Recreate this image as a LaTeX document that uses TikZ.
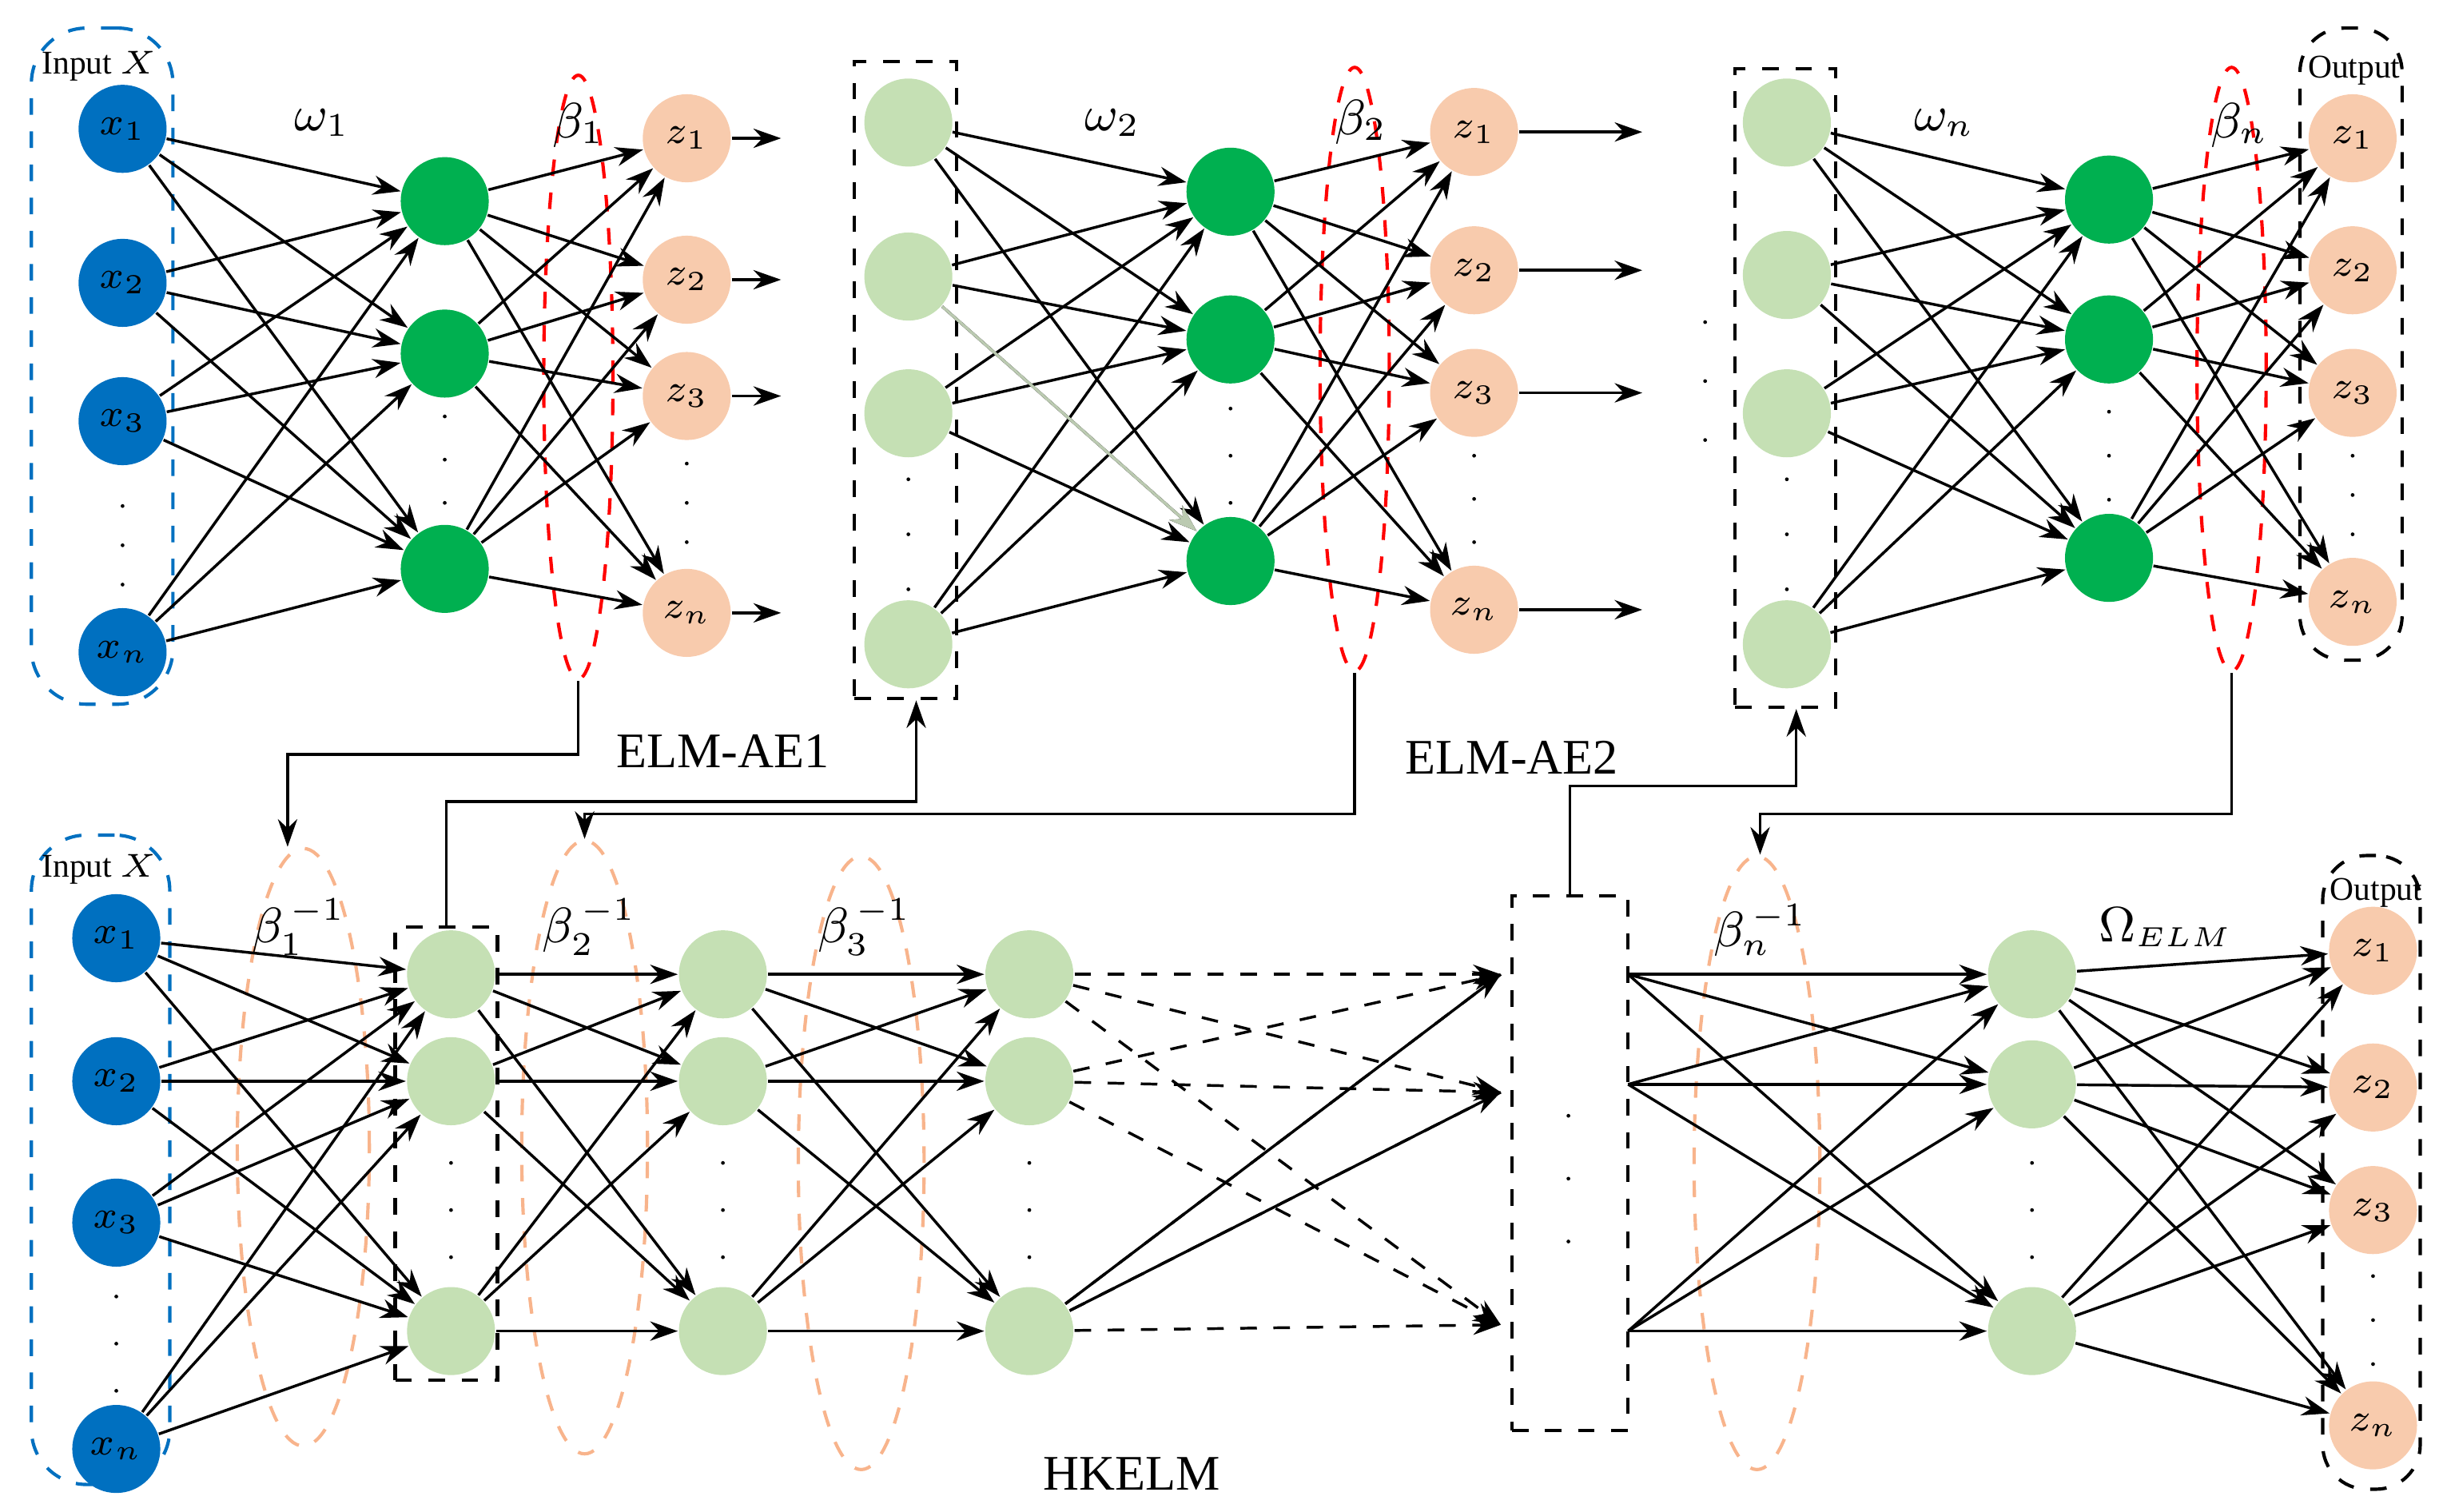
\documentclass[tikz,border=0pt]{standalone}
\usepackage{fontspec}
\setmainfont{Liberation Serif}
\usetikzlibrary{shapes.geometric,arrows.meta}
\definecolor{cblue}{RGB}{0,112,192}
\definecolor{cgreen}{RGB}{0,176,80}
\definecolor{clg}{RGB}{197,224,180}
\definecolor{corg}{RGB}{248,203,173}
\definecolor{cpeach}{RGB}{248,180,140}
\begin{document}
\begin{tikzpicture}[x=0.01cm,y=-0.01cm,
 nd/.style={circle,minimum size=0.56cm,inner sep=0pt,font=\fontsize{7.5}{9}\selectfont},
 xn/.style={nd,fill=cblue}, gn/.style={nd,fill=cgreen}, lg/.style={nd,fill=clg}, zn/.style={nd,fill=corg},
 ar/.style={-{Stealth[length=5pt,width=3.5pt]},line width=0.5pt,shorten >=0pt},
 ln/.style={line width=0.5pt},
 redell/.style={ellipse,draw=red,dashed,line width=0.6pt,inner sep=0pt},
 pell/.style={ellipse,draw=cpeach,dashed,line width=0.6pt,inner sep=0pt},
 dbox/.style={draw,dashed,line width=0.6pt,inner sep=0pt},
 lab/.style={font=\fontsize{9}{10}\selectfont},
 sm/.style={font=\fontsize{6}{7}\selectfont}]
\useasboundingbox (0,0) rectangle (1552,962);
\newcommand{\vd}[3]{\foreach \t in {0,1,2}{\fill (#1,{#2+\t*(#3-#2)/2}) circle (1.2);}}
% ===== TOP ROW =====
\node[dbox,draw=cblue,rounded corners=10pt,minimum width=0.9cm,minimum height=4.3cm] (inT) at (65,233) {};
\node[sm] (tinT) at (63,42) {Input $X$};
\foreach \y/\s [count=\i] in {82/1,180/2,268/3,415/n} \node[xn] (ax\i) at (78,\y) {$x_{\s}$};
\vd{78}{322}{372}
\foreach \y [count=\i] in {128,225,362} \node[gn] (ah\i) at (283,\y) {};
\vd{283}{265}{320}
\node[redell,minimum width=0.44cm,minimum height=3.84cm] (e1) at (368,240) {};
\foreach \y/\s [count=\i] in {88/1,178/2,252/3,390/n} \node[zn] (az\i) at (437,\y) {$z_{\s}$};
\vd{437}{295}{345}
\foreach \i in {1,...,4}{\foreach \j in {1,2,3}{\draw[ar] (ax\i) -- (ah\j);}}
\foreach \i in {1,2,3}{\foreach \j in {1,...,4}{\draw[ar] (ah\i) -- (az\j);}}
\foreach \i in {1,...,4}{\coordinate (ao\i) at (497,{\ifcase\i\or 88\or 178\or 252\or 390\fi}); \draw[ar] (az\i) -- (ao\i);}
\node[lab] (w1) at (205,78) {$\omega_1$};
\node[lab] (b1) at (368,80) {$\beta_1$};
\node[lab] (elm1) at (460,478) {ELM-AE1};
% block 2
\node[dbox,minimum width=0.65cm,minimum height=4.05cm] (box2) at (576,242) {};
\foreach \y [count=\i] in {78,176,263,410} \node[lg] (bx\i) at (578,\y) {};
\vd{578}{305}{375}
\foreach \y [count=\i] in {122,216,357} \node[gn] (bh\i) at (783,\y) {};
\vd{783}{260}{320}
\node[redell,minimum width=0.44cm,minimum height=3.84cm] (e2) at (862,235) {};
\foreach \y/\s [count=\i] in {84/1,172/2,250/3,388/n} \node[zn] (bz\i) at (938,\y) {$z_{\s}$};
\vd{938}{290}{345}
\foreach \i in {1,...,4}{\foreach \j in {1,2,3}{\draw[ar] (bx\i) -- (bh\j);}}
\draw[ar,draw=clg!80!black!70] (bx2) -- (bh3);
\foreach \i in {1,2,3}{\foreach \j in {1,...,4}{\draw[ar] (bh\i) -- (bz\j);}}
\foreach \i in {1,...,4}{\coordinate (bo\i) at (1045,{\ifcase\i\or 84\or 172\or 250\or 388\fi}); \draw[ar] (bz\i) -- (bo\i);}
\node[lab] (w2) at (708,78) {$\omega_2$};
\node[lab] (b2) at (866,78) {$\beta_2$};
\node[lab] (elm2) at (962,482) {ELM-AE2};
\vd{1085}{205}{280}
% block 3
\node[dbox,minimum width=0.64cm,minimum height=4.06cm] (box3) at (1136,247) {};
\foreach \y [count=\i] in {78,175,263,410} \node[lg] (cx\i) at (1137,\y) {};
\vd{1137}{305}{375}
\foreach \y [count=\i] in {127,216,355} \node[gn] (ch\i) at (1342,\y) {};
\vd{1342}{262}{318}
\node[redell,minimum width=0.44cm,minimum height=3.84cm] (e3) at (1420,235) {};
\node[dbox,rounded corners=8pt,minimum width=0.65cm,minimum height=4.02cm] (outT) at (1496,219) {};
\node[sm] (toutT) at (1498,45) {Output};
\foreach \y/\s [count=\i] in {88/1,172/2,250/3,383/n} \node[zn] (cz\i) at (1497,\y) {$z_{\s}$};
\vd{1497}{290}{340}
\foreach \i in {1,...,4}{\foreach \j in {1,2,3}{\draw[ar] (cx\i) -- (ch\j);}}
\foreach \i in {1,2,3}{\foreach \j in {1,...,4}{\draw[ar] (ch\i) -- (cz\j);}}
\node[lab] (w3) at (1237,78) {$\omega_n$};
\node[lab] (b3) at (1425,80) {$\beta_n$};
% ===== BOTTOM ROW =====
\node[dbox,draw=cblue,rounded corners=10pt,minimum width=0.88cm,minimum height=4.13cm] (inB) at (64,738) {};
\node[sm] (tinB) at (63,553) {Input $X$};
\foreach \y/\s [count=\i] in {597/1,688/2,778/3,922/n} \node[xn] (dx\i) at (74,\y) {$x_{\s}$};
\vd{74}{825}{885}
\node[pell,minimum width=0.84cm,minimum height=3.8cm] (f1) at (193,730) {};
\node[dbox,minimum width=0.65cm,minimum height=2.88cm] (bx1) at (284,734) {};
\foreach \y [count=\i] in {620,688,847} \node[lg] (d1\i) at (287,\y) {};
\vd{287}{740}{800}
\node[pell,minimum width=0.8cm,minimum height=3.9cm] (f2) at (372,730) {};
\foreach \y [count=\i] in {620,688,847} \node[lg] (d2\i) at (460,\y) {};
\vd{460}{740}{800}
\node[pell,minimum width=0.8cm,minimum height=3.9cm] (f3) at (548,740) {};
\foreach \y [count=\i] in {620,688,847} \node[lg] (d3\i) at (655,\y) {};
\vd{655}{740}{800}
\node[dbox,minimum width=0.74cm,minimum height=3.4cm] (bxn) at (999,740) {};
\vd{998}{710}{790}
\foreach \y [count=\i] in {620,695,843} \coordinate (q\i) at (955,\y);
\node[pell,minimum width=0.8cm,minimum height=3.9cm] (fn) at (1118,740) {};
\foreach \y [count=\i] in {620,690,847} \node[lg] (d4\i) at (1293,\y) {};
\vd{1293}{740}{800}
\foreach \y [count=\i] in {620,690,847} \coordinate (r\i) at (1036,\y);
\node[dbox,rounded corners=8pt,minimum width=0.62cm,minimum height=4.03cm] (outB) at (1509,746) {};
\node[sm] (toutB) at (1512,568) {Output};
\foreach \y/\s [count=\i] in {605/1,692/2,770/3,907/n} \node[zn] (dz\i) at (1510,\y) {$z_{\s}$};
\vd{1510}{812}{868}
\foreach \i in {1,...,4}{\foreach \j in {1,2,3}{\draw[ar] (dx\i) -- (d1\j);}}
\foreach \i in {1,2,3}{\foreach \j in {1,2,3}{\draw[ar] (d1\i) -- (d2\j); \draw[ar] (d2\i) -- (d3\j); \draw[ar,dashed] (d3\i) -- (q\j); \draw[ar] (r\i) -- (d4\j);}}
\draw[ln] (d33) -- (q1); \draw[ln] (d33) -- (q2);
\foreach \i in {1,2,3}{\foreach \j in {1,...,4}{\draw[ar] (d4\i) -- (dz\j);}}
\node[lab] (l1) at (190,590) {$\beta_1^{\,-1}$};
\node[lab] (l2) at (375,590) {$\beta_2^{\,-1}$};
\node[lab] (l3) at (550,590) {$\beta_3^{\,-1}$};
\node[lab] (l4) at (1120,592) {$\beta_n^{\,-1}$};
\node[lab] (om) at (1378,590) {$\Omega_{\scriptscriptstyle ELM}$};
\node[lab] (hk) at (720,938) {HKELM};
% ===== inter-row connectors =====
\coordinate (k1) at (183,480); \coordinate (k2) at (583,510); \coordinate (k3) at (372,518); \coordinate (k4) at (1143,500); \coordinate (k5) at (1120,518);
\draw[ar] (e1.south) |- (k1) -- (k1 |- f1.north);
\draw[ar] (bx1.north) |- (k2) -- (k2 |- box2.south);
\draw[ar] (e2.south) |- (k3) -- (k3 |- f2.north);
\draw[ar] (bxn.north) |- (k4) -- (k4 |- box3.south);
\draw[ar] (e3.south) |- (k5) -- (k5 |- fn.north);
\end{tikzpicture}
\end{document}
